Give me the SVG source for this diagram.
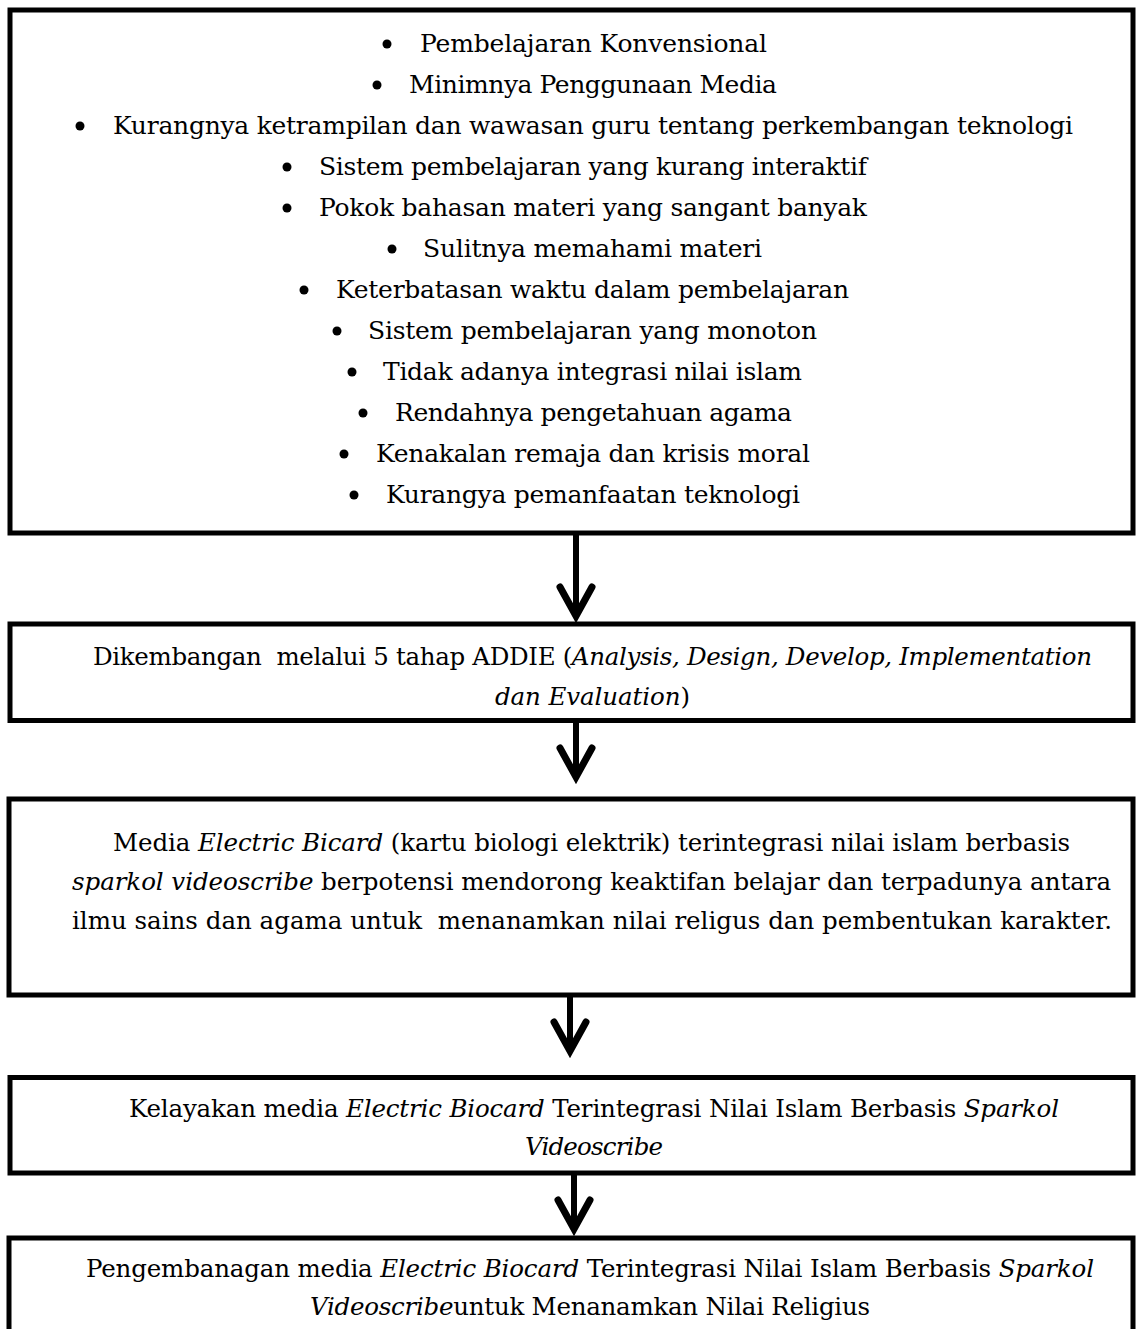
<svg xmlns="http://www.w3.org/2000/svg" width="1136" height="1329" viewBox="0 0 1136 1329">
<defs>
<marker id="chev" viewBox="-40 -20 44 40" refX="0" refY="0" markerWidth="44" markerHeight="40" markerUnits="userSpaceOnUse" orient="auto" overflow="visible">
<path d="M-29,-16 L0,0 L-29,16" fill="none" stroke="#000" stroke-width="7" stroke-linecap="round" stroke-linejoin="miter"/>
</marker>
<style>
.box{fill:#fff;stroke:#000;stroke-width:5}
.t{font-family:"DejaVu Serif",serif;font-size:24.5px;fill:#000}
.l{font-size:25px}
.m{text-anchor:middle}
.i{font-style:italic}
.dot{fill:#000}
.shaft{stroke:#000;stroke-width:6;fill:none;marker-end:url(#chev)}
</style>
</defs>
<rect width="1136" height="1329" fill="#fff"/>

<g id="node-problems">
<rect class="box" x="10" y="10" width="1123" height="523"/>
<circle class="dot" cx="387" cy="44" r="4.5"/><text class="t l" x="420" y="52" textLength="347">Pembelajaran Konvensional</text>
<circle class="dot" cx="377" cy="85" r="4.5"/><text class="t l" x="409" y="93" textLength="368">Minimnya Penggunaan Media</text>
<circle class="dot" cx="80" cy="126" r="4.5"/><text class="t l" x="113" y="134" textLength="960">Kurangnya ketrampilan dan wawasan guru tentang perkembangan teknologi</text>
<circle class="dot" cx="287" cy="167" r="4.5"/><text class="t l" x="319" y="175" textLength="548">Sistem pembelajaran yang kurang interaktif</text>
<circle class="dot" cx="287" cy="208" r="4.5"/><text class="t l" x="319" y="216" textLength="548">Pokok bahasan materi yang sangant banyak</text>
<circle class="dot" cx="392" cy="249" r="4.5"/><text class="t l" x="423" y="257" textLength="339">Sulitnya memahami materi</text>
<circle class="dot" cx="304" cy="290" r="4.5"/><text class="t l" x="336" y="298" textLength="513">Keterbatasan waktu dalam pembelajaran</text>
<circle class="dot" cx="337" cy="331" r="4.5"/><text class="t l" x="368" y="339" textLength="449">Sistem pembelajaran yang monoton</text>
<circle class="dot" cx="352" cy="372" r="4.5"/><text class="t l" x="383" y="380" textLength="419">Tidak adanya integrasi nilai islam</text>
<circle class="dot" cx="363" cy="413" r="4.5"/><text class="t l" x="395" y="421" textLength="397">Rendahnya pengetahuan agama</text>
<circle class="dot" cx="344" cy="454" r="4.5"/><text class="t l" x="376" y="462" textLength="434">Kenakalan remaja dan krisis moral</text>
<circle class="dot" cx="354" cy="495" r="4.5"/><text class="t l" x="386" y="503" textLength="414">Kurangya pemanfaatan teknologi</text>
</g>

<g id="node-addie">
<rect class="box" x="10" y="624" width="1123" height="96.5"/>
<text class="t m" x="592.5" y="665" textLength="999" xml:space="preserve">Dikembangan  melalui 5 tahap ADDIE (<tspan class="i">Analysis, Design, Develop, Implementation</tspan></text>
<text class="t m" x="592.5" y="705" textLength="195"><tspan class="i">dan Evaluation</tspan>)</text>
</g>

<g id="node-media">
<rect class="box" x="9" y="799" width="1124" height="196"/>
<text class="t m" x="591.5" y="851" textLength="957">Media <tspan class="i">Electric Bicard</tspan> (kartu biologi elektrik) terintegrasi nilai islam berbasis</text>
<text class="t m" x="591.5" y="890" textLength="1039"><tspan class="i">sparkol videoscribe</tspan> berpotensi mendorong keaktifan belajar dan terpadunya antara</text>
<text class="t m" x="592" y="929" textLength="1040" xml:space="preserve">ilmu sains dan agama untuk  menanamkan nilai religus dan pembentukan karakter.</text>
</g>

<g id="node-kelayakan">
<rect class="box" x="10" y="1077.5" width="1123" height="95.5"/>
<text class="t m" x="594" y="1117" textLength="930">Kelayakan media <tspan class="i">Electric Biocard</tspan> Terintegrasi Nilai Islam Berbasis <tspan class="i">Sparkol</tspan></text>
<text class="t m i" x="594" y="1155" textLength="138">Videoscribe</text>
</g>

<g id="node-pengembangan">
<rect class="box" x="9" y="1238" width="1124" height="120"/>
<text class="t m" x="590" y="1277" textLength="1008">Pengembanagan media <tspan class="i">Electric Biocard</tspan> Terintegrasi Nilai Islam Berbasis <tspan class="i">Sparkol</tspan></text>
<text class="t m" x="590" y="1315" textLength="560"><tspan class="i">Videoscribe</tspan>untuk Menanamkan Nilai Religius</text>
</g>

<g id="connectors">
<line class="shaft" x1="576" y1="535" x2="576" y2="616"/>
<line class="shaft" x1="576" y1="722" x2="576" y2="777"/>
<line class="shaft" x1="570" y1="997" x2="570" y2="1051"/>
<line class="shaft" x1="574" y1="1175" x2="574" y2="1229"/>
</g>
</svg>
